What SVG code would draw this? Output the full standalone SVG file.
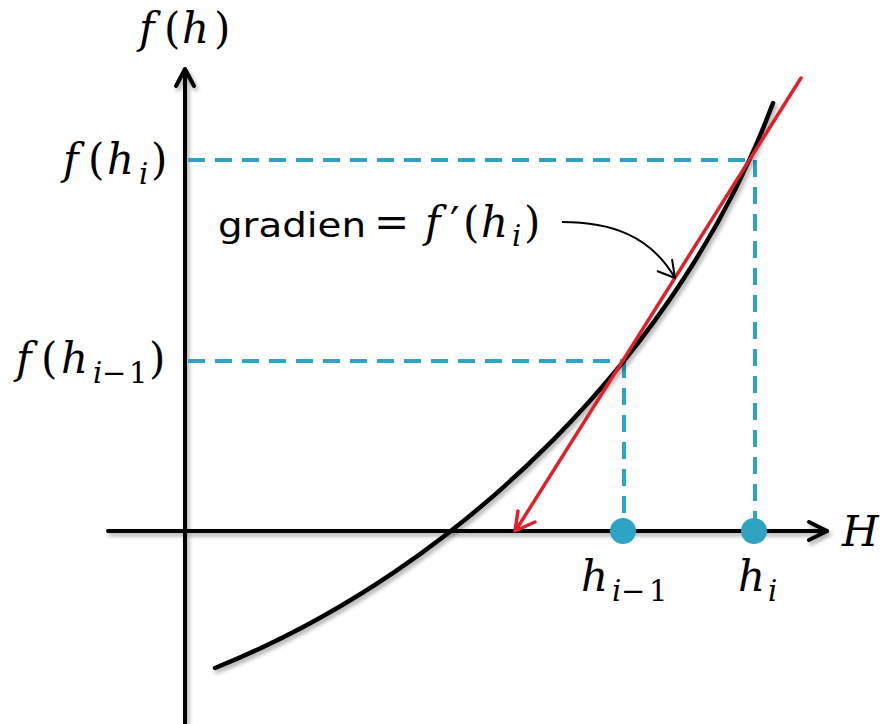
<svg xmlns="http://www.w3.org/2000/svg" width="885" height="724" viewBox="0 0 885 724">
<style>
.ax{fill:none;stroke:#000;stroke-width:4;stroke-linecap:round;stroke-linejoin:round}
.dash{fill:none;stroke:#2EA3C4;stroke-width:4;stroke-dasharray:17 10}
.dot{fill:#2EA3C4}
.math{font-family:"DejaVu Serif","Liberation Serif",serif;fill:#000}
.it{font-style:italic}
.sans{font-family:"DejaVu Sans","Noto Sans",sans-serif;fill:#000}
</style>
<defs>
<filter id="sh" x="-10%" y="-10%" width="120%" height="120%">
<feDropShadow dx="2" dy="3" stdDeviation="2" flood-color="#000" flood-opacity="0.35"/>
</filter>
</defs>
<g id="axes" filter="url(#sh)">
<line class="ax" x1="185" y1="70" x2="185" y2="724"/>
<polyline class="ax" points="176,86 185,69 194,86"/>
<line class="ax" x1="108" y1="531" x2="827" y2="531"/>
<polyline class="ax" points="809,522 827,531 809,540"/>
</g>
<g id="guides">
<line class="dash" x1="188" y1="160" x2="755" y2="160"/>
<line class="dash" x1="755" y1="160" x2="755" y2="520"/>
<line class="dash" x1="188" y1="361" x2="624" y2="361"/>
<line class="dash" x1="624" y1="361" x2="624" y2="520"/>
</g>
<g id="curve" filter="url(#sh)">
<path fill="none" stroke="#000" stroke-width="4.5" stroke-linecap="round" d="M215,668 C465,568 683,346 773,103"/>
</g>
<g id="tangent">
<line x1="801" y1="78" x2="516" y2="530" stroke="#E0202A" stroke-width="3.5" stroke-linecap="round"/>
<polyline points="518,511 515,531 535,522" fill="none" stroke="#E0202A" stroke-width="3.5" stroke-linecap="round" stroke-linejoin="round"/>
</g>
<g id="annotation-arrow">
<path d="M562,222 C610,222 650,235 675,278" fill="none" stroke="#000" stroke-width="2"/>
<polyline points="657,271 675,278 672,259" fill="none" stroke="#000" stroke-width="2" stroke-linejoin="round"/>
</g>
<g id="points">
<circle class="dot" cx="623" cy="531" r="13"/>
<circle class="dot" cx="754" cy="531" r="13"/>
</g>
<g id="labels">
<text class="math" font-size="42"><tspan class="it" x="139" y="43">f</tspan><tspan x="164" y="43">(</tspan><tspan class="it" x="182" y="43">h</tspan><tspan x="214" y="43">)</tspan></text>
<text class="math" font-size="42"><tspan class="it" x="63" y="174">f</tspan><tspan x="88" y="174">(</tspan><tspan class="it" x="107" y="174">h</tspan><tspan class="it" font-size="29" x="139" y="184">i</tspan><tspan x="151" y="174">)</tspan></text>
<text class="math" font-size="42"><tspan class="it" x="16" y="373">f</tspan><tspan x="41" y="373">(</tspan><tspan class="it" x="61" y="373">h</tspan><tspan class="it" font-size="29" x="93" y="383">i</tspan><tspan font-size="29" x="102" y="383">−</tspan><tspan font-size="29" x="129" y="383">1</tspan><tspan x="149" y="373">)</tspan></text>
<text class="sans" x="218" y="237" font-size="34" textLength="148" lengthAdjust="spacingAndGlyphs">gradien</text>
<text class="math" font-size="42"><tspan x="374" y="237">=</tspan><tspan class="it" x="425" y="237">f</tspan><tspan x="450" y="237">′</tspan><tspan x="463" y="237">(</tspan><tspan class="it" x="481" y="237">h</tspan><tspan class="it" font-size="29" x="512" y="246">i</tspan><tspan x="524" y="237">)</tspan></text>
<text class="math it" x="842" y="546" font-size="42">H</text>
<text class="math" font-size="42"><tspan class="it" x="581" y="591">h</tspan><tspan class="it" font-size="29" x="612" y="601">i</tspan><tspan font-size="29" x="621" y="601">−</tspan><tspan font-size="29" x="649" y="601">1</tspan></text>
<text class="math" font-size="42"><tspan class="it" x="738" y="591">h</tspan><tspan class="it" font-size="29" x="768" y="601">i</tspan></text>
</g>
</svg>
